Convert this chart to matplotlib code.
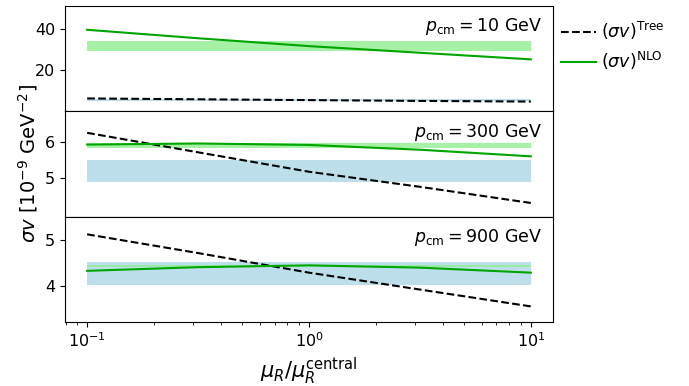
import numpy as np
import matplotlib
matplotlib.use("Agg")
import matplotlib.pyplot as plt

mu = [0.1, 0.316, 1.0, 3.16, 10.0]

labels = [r"$p_{\rm cm} = 10$ GeV", r"$p_{\rm cm} = 300$ GeV", r"$p_{\rm cm} = 900$ GeV"]
nlo = [
    [39.5, 35.4, 31.6, 28.4, 25.2],
    [5.92, 5.95, 5.91, 5.78, 5.60],
    [4.33, 4.41, 4.45, 4.40, 4.29],
]
tree = [
    [6.3, 5.9, 5.5, 5.1, 4.8],
    [6.24, 5.71, 5.18, 4.77, 4.33],
    [5.13, 4.72, 4.29, 3.92, 3.55],
]
green_band = [(29.2, 34.0), (5.83, 5.96), (4.41, 4.46)]
blue_band = [(5.2, 6.0), (4.90, 5.49), (4.03, 4.52)]
ylims = [(0.15, 51.1), (3.96, 6.83), (3.21, 5.52)]
yticks = [[20, 40], [5, 6], [4, 5]]

plt.rcParams['font.size'] = 12.5
plt.rcParams['xtick.labelsize'] = 11.5
plt.rcParams['ytick.labelsize'] = 11.5

fig, axes = plt.subplots(3, 1, sharex=True, figsize=(6.89, 3.86), dpi=100)
fig.subplots_adjust(left=0.0943, right=0.8026, top=0.985, bottom=0.166, hspace=0)

for i, ax in enumerate(axes):
    ax.fill_between([mu[0], mu[-1]], [blue_band[i][0]] * 2, [blue_band[i][1]] * 2,
                    color='lightblue', alpha=0.8, lw=0)
    ax.fill_between([mu[0], mu[-1]], [green_band[i][0]] * 2, [green_band[i][1]] * 2,
                    color='lightgreen', alpha=0.8, lw=0)
    l1, = ax.plot(mu, tree[i], 'k--', lw=1.5, label=r"$(\sigma v)^{\rm Tree}$")
    l2, = ax.plot(mu, nlo[i], color='#00a500', lw=1.5, label=r"$(\sigma v)^{\rm NLO}$")
    ax.set_xscale('log')
    ax.set_ylim(*ylims[i])
    ax.set_yticks(yticks[i])
    ax.text(0.977, 0.9, labels[i], transform=ax.transAxes, ha='right', va='top')

axes[0].set_xlim(10 ** -1.1, 10 ** 1.1)
axes[1].set_ylabel(r"$\sigma v\ [10^{-9}\ \mathrm{GeV}^{-2}]$", fontsize=14)
axes[2].set_xlabel(r"$\mu_R/\mu_R^{\rm central}$", fontsize=15)

fig.legend(handles=[l1, l2], loc='upper left', bbox_to_anchor=(0.792, 0.99),
           frameon=False, handlelength=2.0, handletextpad=0.3)

fig.savefig("out.png", dpi=100)
